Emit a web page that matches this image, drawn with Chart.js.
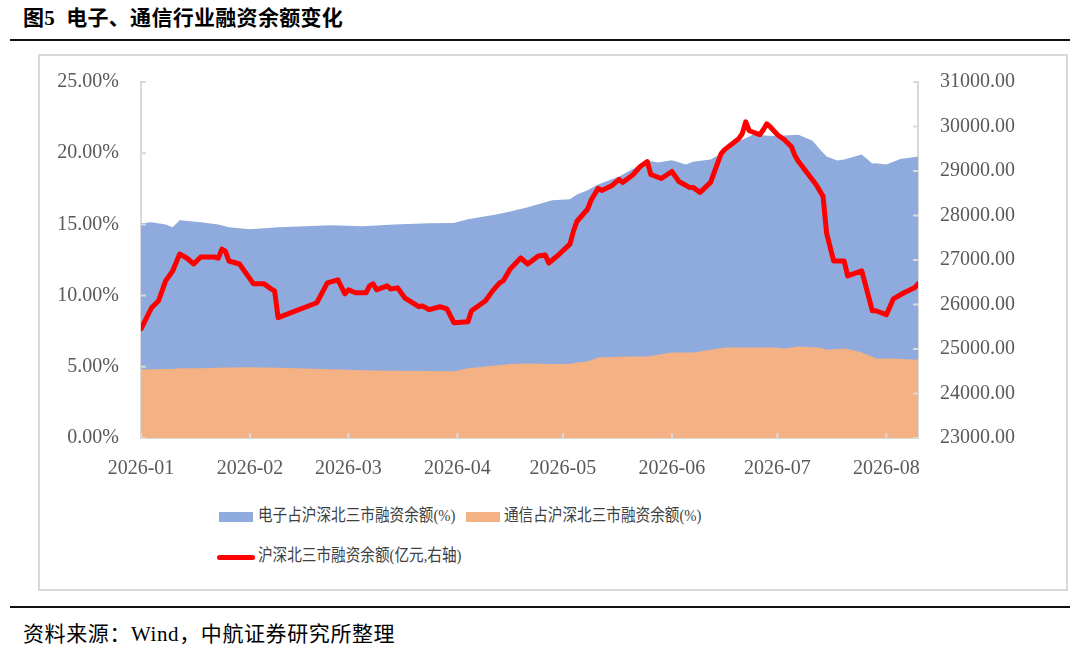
<!DOCTYPE html>
<html>
<head>
<meta charset="utf-8">
<script src="https://cdn.jsdelivr.net/npm/chart.js@4.4.1/dist/chart.umd.min.js"></script>
<style>
  body { margin: 0; background: #fff; width: 1080px; height: 648px; position: relative; overflow: hidden;
         font-family: "Liberation Serif", "Noto Sans CJK SC", serif; }
  .title { position: absolute; left: 23px; top: 1px; font-size: 21px; font-weight: bold; color: #000;
           letter-spacing: 0.3px; font-family: "Liberation Serif", "Noto Sans CJK SC", serif; }
  .rule { position: absolute; left: 10px; width: 1060px; height: 2px; background: #111; }
  .box { position: absolute; left: 38px; top: 54px; width: 1026px; height: 533px; border: 2px solid #d9d9d9; }
  #chart { position: absolute; left: 40px; top: 48px; }
  .legend { position: absolute; color: #404040; white-space: nowrap; }
  .legend .sw { position: absolute; }
  .legend .tx { position: absolute; font-size: 17px; line-height: 22px; transform: scaleX(0.86); transform-origin: left center; }
  .source { position: absolute; left: 23px; top: 617px; font-size: 21px; letter-spacing: 0.6px; color: #000; }
</style>
</head>
<body>
<div class="title">图5&nbsp; 电子、通信行业融资余额变化</div>
<div class="rule" style="top:39px"></div>
<div class="box"></div>
<canvas id="chart" width="1024" height="448"></canvas>
<div id="legend"></div>
<div class="rule" style="top:606px"></div>
<div class="source">资料来源：Wind，中航证券研究所整理</div>

<script>
// --- data ---
const lineDates = ['01-01','01-04','01-06','01-08','01-10','01-12','01-14','01-16','01-18','01-22','01-23','01-24','01-25','01-26','01-29',
  '02-02','02-05','02-07','02-08','02-09','02-20','02-23','02-26','02-28',
  '03-01','03-03','03-06','03-07','03-08','03-09','03-12','03-13','03-15','03-17','03-21','03-22','03-24','03-27','03-29','03-31',
  '04-04','04-05','04-09','04-11','04-13','04-14','04-16','04-19','04-21','04-24','04-26','04-27','04-30',
  '05-03','05-04','05-05','05-08','05-09','05-11','05-12','05-15','05-17','05-18','05-21','05-23','05-25','05-26','05-29',
  '06-01','06-03','06-06','06-07','06-09','06-12','06-15','06-16','06-20','06-21','06-22','06-23','06-26','06-27','06-28','06-29',
  '07-01','07-03','07-05','07-06','07-07','07-12','07-14','07-15','07-17','07-20','07-21','07-25','07-28','07-29',
  '08-01','08-03','08-06','08-09','08-10'];
const marginBalance = [25450,25927,26084,26531,26754,27134,27045,26910,27067,27067,27040,27246,27200,26978,26910,
  26464,26464,26352,26307,25704,26039,26486,26553,26240,
  26330,26263,26263,26419,26464,26330,26419,26350,26374,26151,25950,25970,25883,25950,25900,25592,
  25615,25860,26084,26307,26486,26530,26799,27045,26910,27089,27112,26933,27134,
  27357,27648,27871,28140,28341,28609,28564,28676,28810,28743,28922,29101,29212,28922,28832,
  28989,28765,28631,28631,28520,28743,29391,29480,29726,29838,30106,29905,29816,29927,30061,29990,
  29816,29704,29547,29346,29212,28698,28430,27603,26978,26978,26642,26754,25860,25860,
  25771,26128,26263,26374,26464];

const shareDates = ['01-01','01-04','01-08','01-10','01-12','01-18','01-23','01-26','02-01','02-09','02-24',
  '03-05','03-14','03-24','03-31','04-04','04-12','04-16','04-21','04-28',
  '05-03','05-05','05-08','05-11','05-17','05-21','05-25','05-28',
  '06-01','06-05','06-07','06-12','06-16','06-18','06-24','06-30',
  '07-03','07-07','07-11','07-13','07-15','07-18','07-20','07-22','07-25','07-28','07-29',
  '08-01','08-05','08-10'];
const elecShare = [15.08,15.15,15.0,14.8,15.3,15.15,15.0,14.8,14.66,14.8,14.94,
  14.87,15.0,15.08,15.1,15.36,15.7,15.9,16.2,16.7,
  16.76,17.1,17.4,17.8,18.36,18.9,19.48,19.34,
  19.5,19.2,19.4,19.55,20.1,20.6,21.3,21.2,
  21.25,21.3,20.88,20.3,19.76,19.48,19.55,19.7,19.9,19.27,19.3,
  19.2,19.6,19.76];
const commShare = [4.82,4.82,4.85,4.85,4.9,4.9,4.93,4.95,4.96,4.93,4.82,
  4.75,4.72,4.7,4.68,4.9,5.1,5.2,5.24,5.2,
  5.2,5.3,5.38,5.66,5.7,5.72,5.73,5.85,
  6.0,6.0,6.0,6.2,6.35,6.35,6.35,6.35,
  6.28,6.42,6.38,6.35,6.2,6.25,6.28,6.2,6.0,5.7,5.58,
  5.58,5.55,5.5];

const monthLabels = ['2026-01','2026-02','2026-03','2026-04','2026-05','2026-06','2026-07','2026-08'];
const leftTicks = [0, 5, 10, 15, 20, 25];
const rightTicks = [23000,24000,25000,26000,27000,28000,29000,30000,31000];

const seriesNames = ['电子占沪深北三市融资余额(%)', '通信占沪深北三市融资余额(%)', '沪深北三市融资余额(亿元,右轴)'];
const seriesColors = ['#8faadc', '#f4b183', '#ff0000'];

// day offset from 2026-01-01
const base = Date.UTC(2026, 0, 1);
function dayOf(md) {
  const p = md.split('-');
  return (Date.UTC(2026, +p[0] - 1, +p[1]) - base) / 86400000;
}
const monthDays = monthLabels.map(m => dayOf(m.slice(5) + '-01'));
const lastDay = dayOf(lineDates[lineDates.length - 1]);

const toXY = (dates, vals) => dates.map((d, i) => ({ x: dayOf(d), y: vals[i] }));

const tickFont = { family: '"Liberation Serif", serif', size: 20 };
const tickColor = '#595959';
const axisColor = '#d9d9d9';

// small inward tick marks like the original
const innerTicks = {
  id: 'innerTicks',
  afterDatasetsDraw(chart) {
    const { ctx, chartArea: a, scales } = chart;
    ctx.save();
    ctx.strokeStyle = axisColor;
    ctx.lineWidth = 2;
    ctx.beginPath();
    scales.y.ticks.forEach(t => {
      const py = scales.y.getPixelForValue(t.value);
      ctx.moveTo(a.left, py); ctx.lineTo(a.left + 5, py);
    });
    scales.y1.ticks.forEach(t => {
      const py = scales.y1.getPixelForValue(t.value);
      ctx.moveTo(a.right, py); ctx.lineTo(a.right - 5, py);
    });
    scales.x.ticks.forEach(t => {
      const px = scales.x.getPixelForValue(t.value);
      ctx.moveTo(px, a.bottom); ctx.lineTo(px, a.bottom - 5);
    });
    ctx.stroke();
    ctx.restore();
  }
};

new Chart(document.getElementById('chart'), {
  type: 'line',
  data: {
    datasets: [
      {
        label: seriesNames[2],
        data: toXY(lineDates, marginBalance),
        yAxisID: 'y1',
        borderColor: seriesColors[2],
        borderWidth: 5,
        borderJoinStyle: 'round',
        borderCapStyle: 'round',
        pointRadius: 0,
        tension: 0,
        fill: false
      },
      {
        label: seriesNames[1],
        data: toXY(shareDates, commShare),
        yAxisID: 'y',
        backgroundColor: seriesColors[1],
        borderWidth: 0,
        pointRadius: 0,
        tension: 0,
        fill: 'origin'
      },
      {
        label: seriesNames[0],
        data: toXY(shareDates, elecShare),
        yAxisID: 'y',
        backgroundColor: seriesColors[0],
        borderWidth: 0,
        pointRadius: 0,
        tension: 0,
        fill: 'origin'
      }
    ]
  },
  options: {
    responsive: false,
    animation: false,
    devicePixelRatio: 1,
    layout: { padding: { top: 15, left: 0, right: 0, bottom: 0 } },
    plugins: { legend: { display: false }, tooltip: { enabled: false } },
    scales: {
      x: {
        type: 'linear',
        min: 0,
        max: lastDay,
        afterBuildTicks: s => { s.ticks = monthDays.map(v => ({ value: v })); },
        afterFit: s => { s.height = 58; },
        ticks: {
          font: tickFont, color: tickColor, padding: 19, maxRotation: 0, autoSkip: false,
          callback: v => monthLabels[monthDays.indexOf(v)]
        },
        grid: { display: false, drawTicks: false },
        border: { color: axisColor, width: 2 }
      },
      y: {
        position: 'left',
        min: 0, max: 25,
        afterBuildTicks: s => { s.ticks = leftTicks.map(v => ({ value: v })); },
        afterFit: s => { s.width = 101; },
        ticks: { font: tickFont, color: tickColor, padding: 22, callback: v => v.toFixed(2) + '%' },
        grid: { display: false, drawTicks: false },
        border: { color: axisColor, width: 2 }
      },
      y1: {
        position: 'right',
        min: 23000, max: 31000,
        afterBuildTicks: s => { s.ticks = rightTicks.map(v => ({ value: v })); },
        afterFit: s => { s.width = 146; },
        ticks: { font: tickFont, color: tickColor, padding: 22, callback: v => v.toFixed(2) },
        grid: { display: false, drawTicks: false },
        border: { color: axisColor, width: 2 }
      }
    }
  },
  plugins: [innerTicks]
});

// legend laid out like the original (two rows)
const legendSpots = [
  { sx: 219, tx: 258, y: 517, kind: 'box' },
  { sx: 466, tx: 504, y: 517, kind: 'box' },
  { sx: 217, tx: 258, y: 557, kind: 'line' }
];
const legendEl = document.getElementById('legend');
seriesNames.forEach((name, i) => {
  const s = legendSpots[i];
  const item = document.createElement('div');
  item.className = 'legend';
  const sw = document.createElement('div');
  sw.className = 'sw';
  if (s.kind === 'box') {
    sw.style.cssText = `left:${s.sx}px;top:${s.y - 5}px;width:34px;height:10px;background:${seriesColors[i]}`;
  } else {
    sw.style.cssText = `left:${s.sx}px;top:${s.y - 2}px;width:38px;height:5px;border-radius:3px;background:${seriesColors[i]}`;
  }
  const tx = document.createElement('div');
  tx.className = 'tx';
  tx.style.cssText = `left:${s.tx}px;top:${s.y - 12}px`;
  tx.textContent = name;
  item.appendChild(sw);
  item.appendChild(tx);
  legendEl.appendChild(item);
});
</script>
</body>
</html>
